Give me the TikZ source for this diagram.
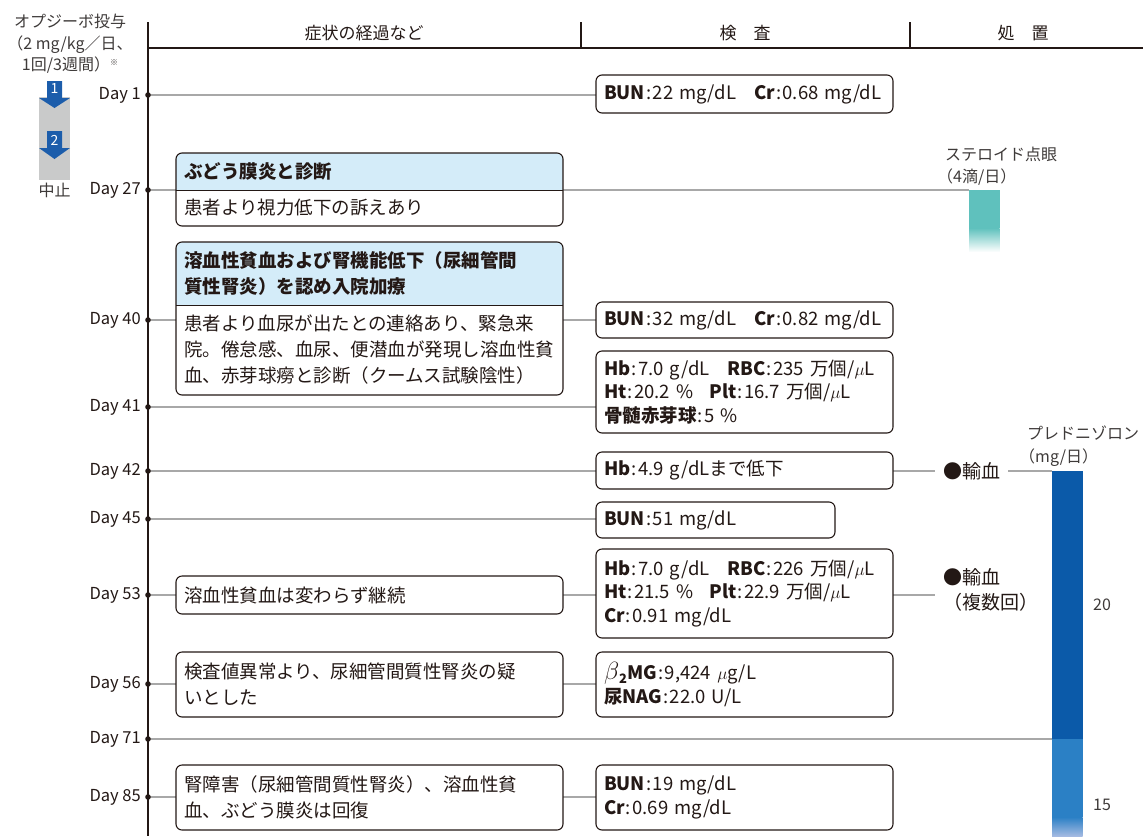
\documentclass[tikz,border=0pt]{standalone}
\usepackage{fontspec}
\setmainfont{Noto Sans CJK JP}
\usetikzlibrary{calc}
\pgfdeclarelayer{bg}
\pgfdeclarelayer{mid}
\pgfsetlayers{bg,mid,main}
\definecolor{ink}{HTML}{231815}
\definecolor{txtg}{HTML}{3E3A39}
\definecolor{gl}{HTML}{A8A8A8}
\definecolor{hdrc}{HTML}{D4ECF9}
\definecolor{nivo}{HTML}{1C5DAB}
\definecolor{grayb}{HTML}{C9CACA}
\definecolor{cPredA}{HTML}{0B5AA9}
\definecolor{cPredB}{HTML}{2B80C5}
\definecolor{cPredC}{HTML}{A4BAE2}
\definecolor{tealc}{HTML}{5FC1BD}
\newcommand\cln{\kern1pt:\kern1.5pt}
\newcommand\mic{$\mu$}
\begin{document}
\begin{tikzpicture}[x=1pt,y=-1pt, line join=round,
  box/.style={draw=ink, line width=1.1pt, rounded corners=6pt, fill=white, anchor=north west, inner xsep=8pt, inner ysep=0pt, outer sep=0pt, align=left, text=ink},
  lbox/.style={box, text width=371pt, font=\fontsize{18.5}{26}\selectfont},
  rbox/.style={box, text width=281pt, font=\fontsize{18.5}{23.5}\selectfont},
  part/.style={anchor=north west, inner xsep=8pt, inner ysep=0pt, outer sep=0pt, align=left, text=ink, text width=371pt, font=\fontsize{18.5}{26}\selectfont},
  conn/.style={draw=gl, line width=1.2pt},
  frame/.style={draw=ink, line width=1.1pt, rounded corners=6pt},
  daylab/.style={anchor=east, inner sep=0pt, font=\fontsize{16.5}{20}\selectfont, text=ink},
  lab/.style={inner sep=0pt, font=\fontsize{16}{22}\selectfont, text=txtg},
  hd/.style={inner sep=0pt, font=\fontsize{17}{20}\selectfont, text=ink},
  bar/.style={anchor=north west, inner sep=0pt, outer sep=0pt, minimum width=30.5pt},
  trt/.style={inner sep=0pt, text=ink, font=\fontsize{19}{25}\selectfont, align=left},
]
\useasboundingbox (0,0) rectangle (1143,836);

% header
\draw[line width=2pt, ink] (148,48) -- (1143,48);
\draw[line width=1.4pt, ink] (581,22) -- (581,48);
\draw[line width=1.4pt, ink] (910,22) -- (910,48);
\node[hd] (h1) at (364,33) {症状の経過など};
\node[hd] (h2) at (745,33) {検\quad 査};
\node[hd] (h3) at (1023,33) {処\quad 置};

% axis
\draw[line width=2pt, ink] (148,22) -- (148,836);
\foreach \n/\y in {1/95,27/190,40/320,41/407,42/471,45/519,53/595,56/684,71/739,85/797} {
  \coordinate (d\n) at (148,\y);
  \node[daylab] (dl\n) at (141,\y) {Day \n};
  \fill[ink] (d\n) circle (2.8);
}

% Opdivo
\node[lab, align=center, font=\fontsize{16}{21.5}\selectfont] (opd) at (70,44) {オプジーボ投与\\（2 mg/kg／日、\\1回/3週間）{\fontsize{8}{8}\selectfont\raisebox{5pt}{※}}};
\fill[grayb] (39,97) rectangle (70,180);
\fill[nivo] (47,81) -- (62,81) -- (62,98) -- (70,98) -- (54.5,108) -- (39,98) -- (47,98) -- cycle;
\node[inner sep=0pt, text=white, font=\fontsize{14}{14}\selectfont] (n1) at (54.5,89) {1};
\fill[nivo] (47,131) -- (62,131) -- (62,148) -- (70,148) -- (54.5,159) -- (39,148) -- (47,148) -- cycle;
\node[inner sep=0pt, text=white, font=\fontsize{14}{14}\selectfont] (n2) at (54.5,140) {2};
\node[lab] (stop) at (54.5,190) {中止};

% left column with headers
\node[part, minimum height=37pt] (hA) at (176,153) {\textbf{ぶどう膜炎と診断}};
\node[part, minimum height=36pt] (bA) at (hA.south west) {患者より視力低下の訴えあり};
\node[part, minimum height=63pt] (hB) at (176,242) {\textbf{溶血性貧血および腎機能低下（尿細管間}\\\textbf{質性腎炎）を認め入院加療}};
\node[part, minimum height=90pt] (bB) at (hB.south west) {患者より血尿が出たとの連絡あり、緊急来\\院。倦怠感、血尿、便潜血が発現し溶血性貧\\血、赤芽球癆と診断（クームス試験陰性）};
\begin{pgfonlayer}{mid}
  \fill[white, rounded corners=6pt] (hA.north west) rectangle (bA.south east);
  \begin{scope}
    \clip[rounded corners=6pt] (hA.north west) rectangle (bA.south east);
    \fill[hdrc] (hA.north west) rectangle (hA.south east);
  \end{scope}
  \fill[white, rounded corners=6pt] (hB.north west) rectangle (bB.south east);
  \begin{scope}
    \clip[rounded corners=6pt] (hB.north west) rectangle (bB.south east);
    \fill[hdrc] (hB.north west) rectangle (hB.south east);
  \end{scope}
\end{pgfonlayer}
\draw[frame] (hA.north west) rectangle (bA.south east);
\draw[ink, line width=0.8pt] (hA.south west) -- (hA.south east);
\draw[frame] (hB.north west) rectangle (bB.south east);
\draw[ink, line width=0.8pt] (hB.south west) -- (hB.south east);

% left boxes
\node[lbox, minimum height=38pt] (l53) at (176,576) {溶血性貧血は変わらず継続};
\node[lbox, minimum height=65pt] (l56) at (176,652) {検査値異常より、尿細管間質性腎炎の疑\\いとした};
\node[lbox, minimum height=65pt] (l85) at (176,765) {腎障害（尿細管間質性腎炎）、溶血性貧\\血、ぶどう膜炎は回復};

% right boxes
\node[rbox, minimum height=38pt] (r1) at (596,75) {\textbf{BUN}\cln 22 mg/dL\hspace{18pt}\textbf{Cr}\cln 0.68 mg/dL};
\node[rbox, minimum height=36pt] (r40) at (596,302) {\textbf{BUN}\cln 32 mg/dL\hspace{18pt}\textbf{Cr}\cln 0.82 mg/dL};
\node[rbox, minimum height=82pt] (r41) at (596,351) {\textbf{Hb}\cln 7.0 g/dL\hspace{18pt}\textbf{RBC}\cln 235 万個/\mic L\\\textbf{Ht}\cln 20.2 \%\hspace{16pt}\textbf{Plt}\cln 16.7 万個/\mic L\\\textbf{骨髄赤芽球}\cln 5 \%};
\node[rbox, minimum height=37pt] (r42) at (596,452) {\textbf{Hb}\cln 4.9 g/dLまで低下};
\node[rbox, text width=223pt, minimum height=36pt] (r45) at (596,502) {\textbf{BUN}\cln 51 mg/dL};
\node[rbox, minimum height=89pt] (r53) at (596,549) {\textbf{Hb}\cln 7.0 g/dL\hspace{18pt}\textbf{RBC}\cln 226 万個/\mic L\\\textbf{Ht}\cln 21.5 \%\hspace{16pt}\textbf{Plt}\cln 22.9 万個/\mic L\\\textbf{Cr}\cln 0.91 mg/dL};
\node[rbox, minimum height=65pt] (r56) at (596,652) {{\fontsize{25}{22}\selectfont$\beta$}\textsubscript{\textbf{2}}\textbf{MG}\cln 9,424 \mic g/L\\\textbf{尿NAG}\cln 22.0 U/L};
\node[rbox, minimum height=65pt] (r85) at (596,765) {\textbf{BUN}\cln 19 mg/dL\\\textbf{Cr}\cln 0.69 mg/dL};

% treatments
\node[bar, fill=tealc, minimum height=38pt] (ster) at (969,190) {};
\shade[top color=tealc, bottom color=white] (969,228) rectangle (999.5,252);
\node[lab, anchor=west, align=left] (sterl) at (945,166) {ステロイド点眼\\\kern-8pt（4滴/日）};
\node[bar, fill=cPredA, minimum height=268pt] (pred) at (1052,471) {};
\node[bar, fill=cPredB, minimum height=78pt] (predB) at (1052,739) {};
\shade[top color=cPredB, bottom color=cPredC] (1052,817) rectangle (1082.5,836);
\node[lab, anchor=west, align=left, font=\fontsize{16}{23}\selectfont] (predl) at (1027,446) {プレドニゾロン\\\kern-8pt（mg/日）};
\node[lab, anchor=west] (v20) at (1093,605) {20};
\node[lab, anchor=west] (v15) at (1093,805) {15};
\node[trt, anchor=west, inner xsep=8pt] (t42) at (935,471) {●輸血};
\node[trt, anchor=north west] (t53) at (943,568) {●輸血\\（複数回）};
\coordinate (e53) at (935,595);

% connectors
\begin{pgfonlayer}{bg}
\draw[conn] (d1) -- (r1.west |- d1);
\draw[conn] (d27) -- (ster.north west);
\draw[conn] (d40) -- (hB.west |- d40);
\draw[conn] (bB.east |- d40) -- (r40.west |- d40);
\draw[conn] (d41) -- (r41.west |- d41);
\draw[conn] (d42) -- (r42.west |- d42);
\draw[conn] (r42.east |- d42) -- (t42.west);
\draw[conn] (t42.east) -- (pred.north west);
\draw[conn] (d45) -- (r45.west |- d45);
\draw[conn] (d53) -- (l53.west |- d53);
\draw[conn] (l53.east |- d53) -- (r53.west |- d53);
\draw[conn] (r53.east |- d53) -- (e53);
\draw[conn] (d56) -- (l56.west |- d56);
\draw[conn] (l56.east |- d56) -- (r56.west |- d56);
\draw[conn] (d71) -- (predB.north west);
\draw[conn] (d85) -- (l85.west |- d85);
\draw[conn] (l85.east |- d85) -- (r85.west |- d85);
\end{pgfonlayer}
\end{tikzpicture}
\end{document}
